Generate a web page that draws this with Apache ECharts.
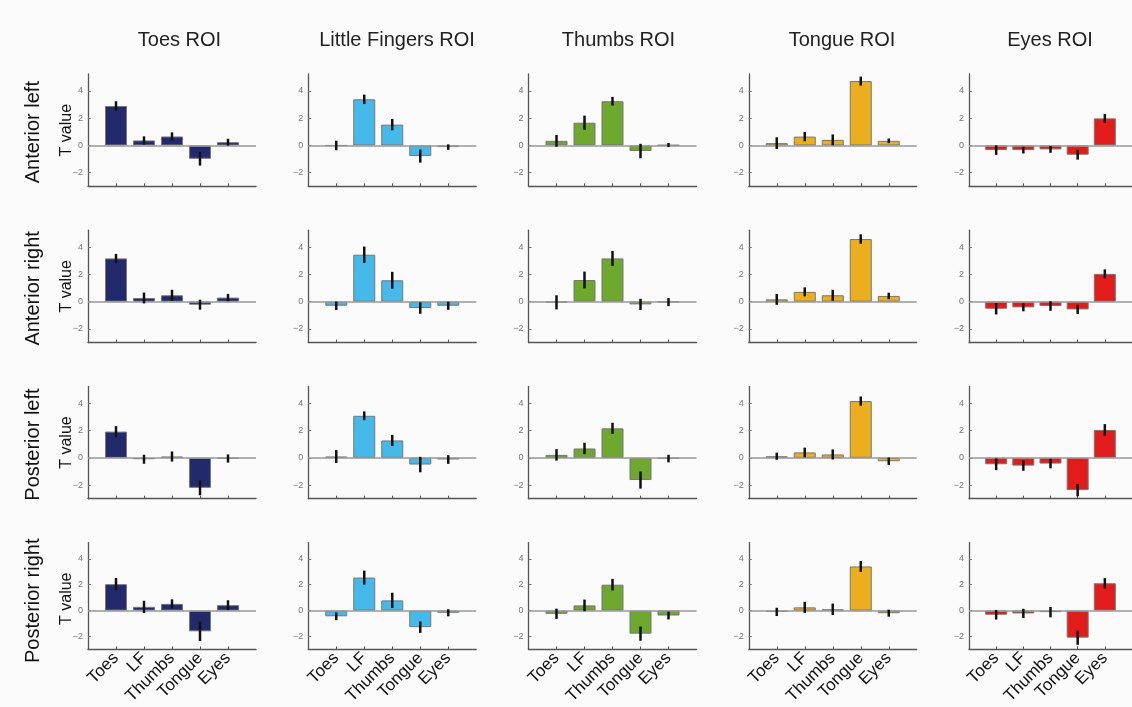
<!DOCTYPE html>
<html>
<head>
<meta charset="utf-8">
<script src="https://cdn.jsdelivr.net/npm/echarts@6/dist/echarts.min.js"></script>
<style>
html,body{margin:0;padding:0;background:#fbfbfb;}
#chart{width:1132px;height:707px;}
</style>
</head>
<body>
<div id="chart"></div>
<script>
const categories = ['Toes', 'LF', 'Thumbs', 'Tongue', 'Eyes'];
const roiTitles = ['Toes ROI', 'Little Fingers ROI', 'Thumbs ROI', 'Tongue ROI', 'Eyes ROI'];
const rowLabels = ['Anterior left', 'Anterior right', 'Posterior left', 'Posterior right'];
const roiColors = ['#232a6c', '#45b9e9', '#6ea82e', '#ebae1f', '#e21b1b'];
const yTickValues = [-2, 0, 2, 4];

// each row: one array per ROI (column), values for Toes, LF, Thumbs, Tongue, Eyes
const anteriorLeftT = [
  [2.90, 0.37, 0.66, -0.98, 0.24],
  [0.00, 3.39, 1.53, -0.78, -0.12],
  [0.34, 1.67, 3.25, -0.41, 0.03],
  [0.17, 0.65, 0.41, 4.73, 0.34],
  [-0.34, -0.34, -0.29, -0.68, 1.99]
];
const anteriorLeftErr = [
  [0.35, 0.30, 0.30, 0.50, 0.25],
  [0.35, 0.35, 0.42, 0.48, 0.20],
  [0.43, 0.52, 0.32, 0.53, 0.15],
  [0.43, 0.34, 0.40, 0.33, 0.17],
  [0.35, 0.25, 0.25, 0.36, 0.33]
];
const anteriorRightT = [
  [3.18, 0.27, 0.47, -0.22, 0.30],
  [-0.30, 3.45, 1.57, -0.47, -0.30],
  [-0.05, 1.59, 3.18, -0.20, -0.03],
  [0.17, 0.72, 0.47, 4.60, 0.42],
  [-0.52, -0.42, -0.32, -0.57, 2.04]
];
const anteriorRightErr = [
  [0.33, 0.40, 0.40, 0.37, 0.27],
  [0.31, 0.60, 0.62, 0.42, 0.30],
  [0.52, 0.62, 0.55, 0.41, 0.30],
  [0.40, 0.33, 0.40, 0.35, 0.24],
  [0.42, 0.29, 0.35, 0.33, 0.33]
];
const posteriorLeftT = [
  [1.93, -0.10, 0.10, -2.20, -0.05],
  [0.10, 3.09, 1.28, -0.49, -0.12],
  [0.22, 0.69, 2.17, -1.63, -0.05],
  [0.12, 0.40, 0.25, 4.17, -0.25],
  [-0.47, -0.57, -0.42, -2.37, 2.05]
];
const posteriorLeftErr = [
  [0.40, 0.33, 0.37, 0.55, 0.30],
  [0.47, 0.32, 0.41, 0.57, 0.32],
  [0.42, 0.42, 0.41, 0.63, 0.28],
  [0.26, 0.35, 0.37, 0.34, 0.27],
  [0.43, 0.38, 0.35, 0.45, 0.43]
];
const posteriorRightT = [
  [2.04, 0.29, 0.52, -1.60, 0.42],
  [-0.44, 2.55, 0.79, -1.28, -0.17],
  [-0.25, 0.40, 2.00, -1.78, -0.38],
  [-0.10, 0.25, 0.10, 3.41, -0.20],
  [-0.32, -0.22, -0.12, -2.09, 2.11]
];
const posteriorRightErr = [
  [0.48, 0.47, 0.35, 0.75, 0.38],
  [0.30, 0.54, 0.59, 0.44, 0.27],
  [0.40, 0.45, 0.45, 0.55, 0.30],
  [0.32, 0.43, 0.44, 0.42, 0.27],
  [0.37, 0.36, 0.40, 0.55, 0.40]
];

const rowValues = [anteriorLeftT, anteriorRightT, posteriorLeftT, posteriorRightT];
const rowErrors = [anteriorLeftErr, anteriorRightErr, posteriorLeftErr, posteriorRightErr];

const FONT = '"Liberation Sans", Arial, Helvetica, sans-serif';
const gridLeft0 = 88, gridDX = 220.25, gridTop0 = 74, gridDY = 156.2, gridW = 168, gridH = 112.3;
const xPositions = categories.map((c, k) => k + 1);

const grids = [], xAxes = [], yAxes = [], series = [], graphics = [];
const fmtY = v => (v < 0 ? '\u2212' + Math.abs(v) : String(v));

for (let r = 0; r < 4; r++) {
  for (let c = 0; c < 5; c++) {
    const i = r * 5 + c;
    grids.push({ left: gridLeft0 + c * gridDX, top: gridTop0 + r * gridDY, width: gridW, height: gridH });
    xAxes.push({
      gridIndex: i, type: 'value', min: 0, max: 6,
      axisLine: { show: true, onZero: false, lineStyle: { color: '#555', width: 1.3 } },
      axisTick: { show: true, inside: true, length: 3, customValues: xPositions, lineStyle: { color: '#555' } },
      axisLabel: {
        show: r === 3, customValues: xPositions, interval: 0,
        formatter: v => categories[Math.round(v) - 1] || '',
        rotate: 45, fontSize: 17, color: '#111', fontFamily: FONT, margin: 6
      },
      splitLine: { show: false }
    });
    yAxes.push({
      gridIndex: i, type: 'value', min: -3, max: 5.25,
      axisLine: { show: true, onZero: false, lineStyle: { color: '#555', width: 1.3 } },
      axisTick: { show: true, inside: true, length: 3, customValues: yTickValues, lineStyle: { color: '#777' } },
      axisLabel: { customValues: yTickValues, formatter: fmtY, fontSize: 9, color: '#777', fontFamily: FONT, margin: 5 },
      splitLine: { show: false }
    });
    const vals = rowValues[r][c];
    const errs = rowErrors[r][c];
    series.push({
      type: 'bar', xAxisIndex: i, yAxisIndex: i,
      data: vals.map((v, k) => [xPositions[k], v]),
      barWidth: 22,
      itemStyle: { color: roiColors[c], borderColor: '#777', borderWidth: 1 },
      markLine: {
        silent: true, symbol: 'none', label: { show: false },
        lineStyle: { color: '#999', width: 1.5, type: 'solid' },
        data: [{ yAxis: 0 }]
      },
      animation: false
    });
    series.push({
      type: 'custom', xAxisIndex: i, yAxisIndex: i,
      data: vals.map((v, k) => [xPositions[k], v, errs[k]]),
      encode: { x: 0, y: 1 },
      renderItem: (params, api) => {
        const x = api.value(0), v = api.value(1), e = api.value(2);
        const p1 = api.coord([x, v - e]);
        const p2 = api.coord([x, v + e]);
        return { type: 'line', shape: { x1: p1[0], y1: p1[1], x2: p2[0], y2: p2[1] }, style: { stroke: '#111', lineWidth: 2.5 } };
      },
      z: 10, animation: false
    });
  }
}

const titleCenters = [179.5, 397, 618.5, 842, 1050];
roiTitles.forEach((t, c) => {
  graphics.push({ type: 'text', x: titleCenters[c], y: 40,
    style: { text: t, font: '20px ' + FONT, fill: '#222', textAlign: 'center', textVerticalAlign: 'middle' } });
});
rowLabels.forEach((t, r) => {
  const cy = gridTop0 + r * gridDY + gridH / 2;
  graphics.push({ type: 'text', x: 33.5, y: cy + 2, rotation: Math.PI / 2,
    style: { text: t, font: '20px ' + FONT, fill: '#111', textAlign: 'center', textVerticalAlign: 'middle' } });
  graphics.push({ type: 'text', x: 66.5, y: cy, rotation: Math.PI / 2,
    style: { text: 'T value', font: '16px ' + FONT, fill: '#111', textAlign: 'center', textVerticalAlign: 'middle' } });
});

const chart = echarts.init(document.getElementById('chart'), null, { renderer: 'canvas' });
chart.setOption({
  backgroundColor: '#fbfbfb',
  animation: false,
  grid: grids, xAxis: xAxes, yAxis: yAxes, series: series,
  graphic: graphics
});
</script>
</body>
</html>
